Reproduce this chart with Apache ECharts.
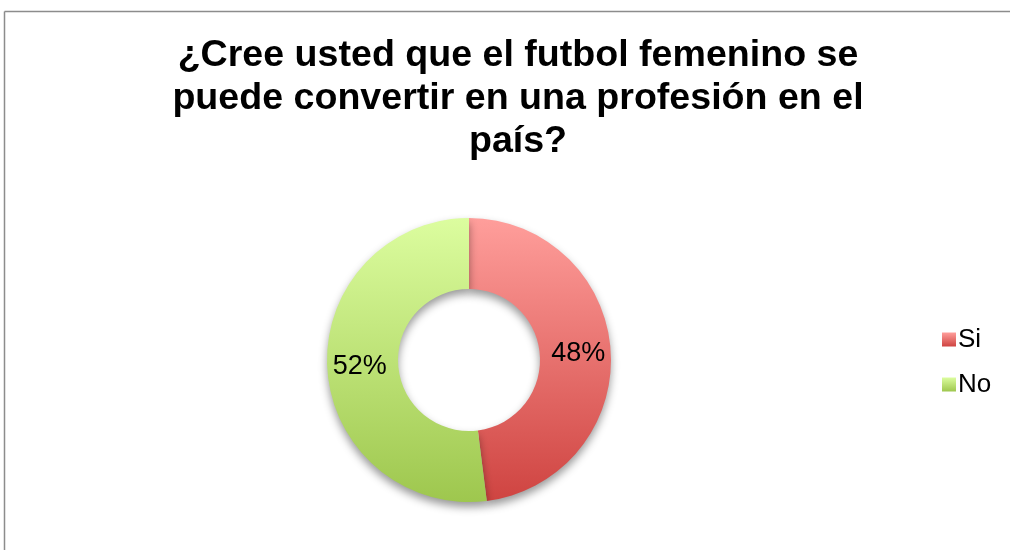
<!DOCTYPE html>
<html>
<head>
<meta charset="utf-8">
<script src="https://cdn.jsdelivr.net/npm/echarts@6/dist/echarts.min.js"></script>
<style>html,body{margin:0;padding:0;background:#fff}#c{width:1010px;height:550px}</style>
</head>
<body>
<div id="c"></div>
<script>
const titleText = '¿Cree usted que el futbol femenino se\npuede convertir en una profesión en el\npaís?';
const categories = ['Si', 'No'];
const values = [48, 52];
const gradTop = ['#FF9E9B', '#DCFD9F'];
const gradBottom = ['#CF4441', '#9EC74E'];

const chart = echarts.init(document.getElementById('c'), null, {renderer: 'canvas'});
const grad = i => new echarts.graphic.LinearGradient(0, 0, 0, 1, [
  {offset: 0, color: gradTop[i]},
  {offset: 1, color: gradBottom[i]}
]);
const data = categories.map((name, i) => ({
  name: name,
  value: values[i],
  itemStyle: {color: grad(i)}
}));
chart.setOption({
  animation: false,
  title: {
    text: titleText,
    left: 513,
    textAlign: 'center',
    top: 29,
    textStyle: {
      fontFamily: 'Liberation Sans, Arial, sans-serif',
      fontWeight: 'bold',
      fontSize: 37.6,
      lineHeight: 43,
      color: '#000'
    }
  },
  legend: {
    orient: 'vertical',
    left: 937,
    top: 321,
    itemWidth: 14,
    itemHeight: 14,
    itemGap: 18,
    icon: 'rect',
    textStyle: {fontFamily: 'Liberation Sans, Arial, sans-serif', fontSize: 26, lineHeight: 27, color: '#000', padding: [0, 0, 0, -3]},
    data: categories.map((c, i) => ({name: c, itemStyle: {color: grad(i)}}))
  },
  graphic: [
    {type: 'line', shape: {x1: 4.5, y1: 11.5, x2: 1010, y2: 11.5}, style: {stroke: '#8c8c8c', lineWidth: 1.5}},
    {type: 'line', shape: {x1: 4.5, y1: 11.5, x2: 4.5, y2: 550}, style: {stroke: '#8c8c8c', lineWidth: 1.5}}
  ],
  series: [{
    type: 'pie',
    center: [469, 360],
    radius: [71, 142],
    startAngle: 90,
    clockwise: true,
    avoidLabelOverlap: false,
    label: {
      show: true,
      position: 'inside',
      formatter: '{c}%',
      fontFamily: 'Liberation Sans, Arial, sans-serif',
      fontSize: 27,
      color: '#000'
    },
    labelLine: {show: false},
    itemStyle: {
      shadowBlur: 9,
      shadowOffsetY: 5,
      shadowColor: 'rgba(0,0,0,0.4)'
    },
    emphasis: {disabled: true},
    data: data
  }]
});
</script>
</body>
</html>
